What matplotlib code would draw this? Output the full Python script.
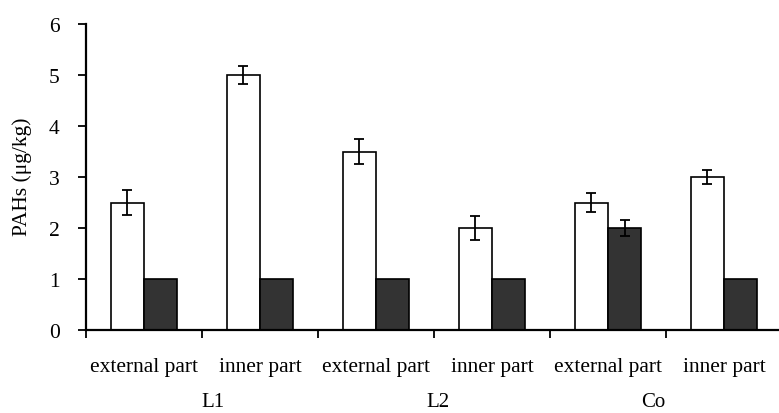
import matplotlib
matplotlib.use("Agg")
import matplotlib.pyplot as plt
import numpy as np
from matplotlib.transforms import blended_transform_factory

categories = ["external part", "inner part", "external part", "inner part", "external part", "inner part"]
groups = ["L1", "L2", "Co"]
group_pos = [0.59, 2.53, 4.39]
white_vals = [2.5, 5.0, 3.5, 2.0, 2.5, 3.0]
white_err = [0.25, 0.17, 0.24, 0.24, 0.19, 0.14]
dark_vals = [1.0, 1.0, 1.0, 1.0, 2.0, 1.0]
dark_err = [0, 0, 0, 0, 0.15, 0]
dark_has_err = [False, False, False, False, True, False]
yticks = [0, 1, 2, 3, 4, 5, 6]

plt.rcParams['font.family'] = ['Liberation Serif', 'DejaVu Serif']

W, H = 779, 414
fig = plt.figure(figsize=(W / 100, H / 100), dpi=100)
left, right, top, bottom = 86, 782, 25, 331
ax = fig.add_axes([left / W, 1 - bottom / H, (right - left) / W, (bottom - top) / H])

x = np.arange(len(categories))
bw = 0.285
ax.bar(x - bw / 2, white_vals, bw, color="white", edgecolor="black", linewidth=1.2, zorder=2)
ax.bar(x + bw / 2, dark_vals, bw, color="#333333", edgecolor="black", linewidth=1.2, zorder=2)
ax.errorbar(x - bw / 2, white_vals, yerr=white_err, fmt="none", ecolor="black",
            elinewidth=1.3, capsize=3.5, capthick=1.3, zorder=3)
dx = [xi + bw / 2 for xi, h in zip(x, dark_has_err) if h]
dy = [v for v, h in zip(dark_vals, dark_has_err) if h]
de = [e for e, h in zip(dark_err, dark_has_err) if h]
ax.errorbar(dx, dy, yerr=de, fmt="none", ecolor="black", elinewidth=1.3, capsize=3.5, capthick=1.3, zorder=3)

ax.set_xlim(-0.5, len(categories) - 0.5)
ax.set_ylim(0, 6)
ax.set_yticks(yticks)
ax.set_yticklabels([str(t) for t in yticks], fontsize=15.5)
ax.set_xticks(np.arange(len(categories) + 1) - 0.5)
ax.set_xticklabels([])
ax.tick_params(axis="x", direction="out", length=6, width=1.3)
ax.tick_params(axis="y", direction="out", length=6, width=1.3, pad=13)

for s in ["top", "right"]:
    ax.spines[s].set_visible(False)
for s in ["left", "bottom"]:
    ax.spines[s].set_linewidth(1.6)

trans = blended_transform_factory(ax.transData, fig.transFigure)
for xi, c in zip(x, categories):
    ax.text(xi, 1 - 368 / H, c, transform=trans, ha="center", va="center", fontsize=15.5)
for gp, g in zip(group_pos, groups):
    ax.text(gp, 1 - 403 / H, g, transform=trans, ha="center", va="center", fontsize=15)

fig.text(22 / W, 1 - 177 / H, "PAHs (μg/kg)", rotation=90, ha="center", va="center", fontsize=15.5)

fig.savefig("out.png", dpi=100)
